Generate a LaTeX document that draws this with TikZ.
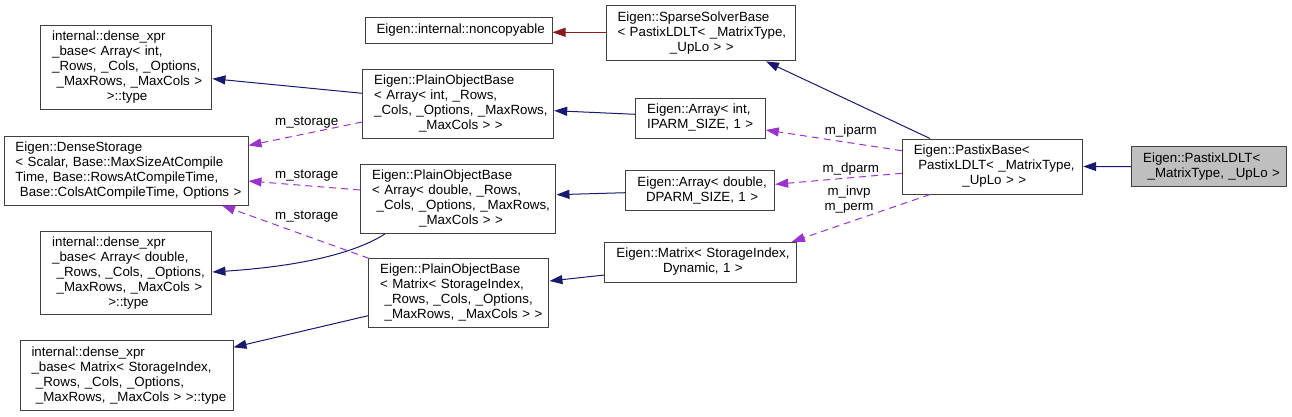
\documentclass[tikz,border=0pt]{standalone}
\usepackage{fontspec}
\setmainfont{Liberation Sans}
\usetikzlibrary{arrows.meta}
\definecolor{navy}{HTML}{191970}
\definecolor{orchid}{HTML}{9A32CD}
\definecolor{fbrick}{HTML}{8B1A1A}
\definecolor{bord}{HTML}{404040}
\definecolor{curcls}{HTML}{BFBFBF}
\newcommand{\lastln}[1]{\multicolumn{1}{@{}c@{}}{#1}}
\tikzset{
  cls/.style={draw=bord, line width=1pt, fill=white, inner xsep=11.5pt, inner ysep=0pt,
    align=left, font=\fontsize{13.33}{15}\selectfont},
  inh/.style={draw=navy, line width=1pt, -{Triangle[length=13pt,width=9pt,fill=navy]}},
  inhred/.style={draw=fbrick, line width=1pt, -{Triangle[length=13pt,width=9pt,fill=fbrick]}},
  usage/.style={draw=orchid, line width=1pt, dash pattern=on 7pt off 5pt,
    -{Triangle[length=13pt,width=9pt,fill=orchid]}},
  lbl/.style={inner sep=0pt, align=center, font=\fontsize{13.33}{15}\selectfont}
}
\begin{document}
\begin{tikzpicture}[x=1pt,y=-1pt]
\useasboundingbox (0,0) rectangle (1292,417);
% left column
\node[cls, text width=148.3pt, minimum height=84.3pt] (dxint) at (126.3,67.8)
  {\begin{tabular}{@{}l@{}}internal::dense\_xpr\\ \_base< Array< int,\\ \_Rows, \_Cols, \_Options,\\ \ \_MaxRows, \_MaxCols >\\ \lastln{>::type}\end{tabular}};
\node[cls, text width=221pt, minimum height=69pt] (ds) at (126,170.5)
  {\begin{tabular}{@{}l@{}}Eigen::DenseStorage\\ < Scalar, Base::MaxSizeAtCompile\\ Time, Base::RowsAtCompileTime,\\ \lastln{\ Base::ColsAtCompileTime, Options >}\end{tabular}};
\node[cls, text width=148.3pt, minimum height=83.3pt] (dxdbl) at (126.3,273.3)
  {\begin{tabular}{@{}l@{}}internal::dense\_xpr\\ \_base< Array< double,\\ \ \_Rows, \_Cols, \_Options,\\ \ \_MaxRows, \_MaxCols >\\ \lastln{>::type}\end{tabular}};
\node[cls, text width=190pt, minimum height=69.7pt] (dxmat) at (126.5,375.8)
  {\begin{tabular}{@{}l@{}}internal::dense\_xpr\\ \_base< Matrix< StorageIndex,\\ \ \_Rows, \_Cols, \_Options,\\ \lastln{\ \_MaxRows, \_MaxCols > >::type}\end{tabular}};
% middle column
\node[cls, text width=164pt, minimum height=25.6pt] (nonc) at (458.5,30.5)
  {\begin{tabular}{@{}l@{}}Eigen::internal::noncopyable\end{tabular}};
\node[cls, text width=168pt, minimum height=69pt] (pobint) at (458.2,103.8)
  {\begin{tabular}{@{}l@{}}Eigen::PlainObjectBase\\ < Array< int, \_Rows,\\ \_Cols, \_Options, \_MaxRows,\\ \lastln{\_MaxCols > >}\end{tabular}};
\node[cls, text width=172.3pt, minimum height=69.3pt] (pobdbl) at (458.3,198.7)
  {\begin{tabular}{@{}l@{}}Eigen::PlainObjectBase\\ < Array< double, \_Rows,\\ \ \_Cols, \_Options, \_MaxRows,\\ \lastln{\_MaxCols > >}\end{tabular}};
\node[cls, text width=157.3pt, minimum height=68.7pt] (pobmat) at (458.8,293.3)
  {\begin{tabular}{@{}l@{}}Eigen::PlainObjectBase\\ < Matrix< StorageIndex,\\ \ \_Rows, \_Cols, \_Options,\\ \lastln{\ \_MaxRows, \_MaxCols > >}\end{tabular}};
% right-middle column
\node[cls, text width=166pt, minimum height=55.3pt] (ssb) at (700.5,33.3)
  {\begin{tabular}{@{}l@{}}Eigen::SparseSolverBase\\ < PastixLDLT< \_MatrixType,\\ \lastln{\_UpLo > >}\end{tabular}};
\node[cls, text width=106.6pt, minimum height=39.6pt] (aint) at (700.5,118.5)
  {\begin{tabular}{@{}l@{}}Eigen::Array< int,\\ \lastln{IPARM\_SIZE, 1 >}\end{tabular}};
\node[cls, text width=125.7pt, minimum height=40pt] (adbl) at (700.3,190.7)
  {\begin{tabular}{@{}l@{}}Eigen::Array< double,\\ \lastln{DPARM\_SIZE, 1 >}\end{tabular}};
\node[cls, text width=168.7pt, minimum height=40pt] (mat) at (700.8,262.3)
  {\begin{tabular}{@{}l@{}}Eigen::Matrix< StorageIndex,\\ \lastln{Dynamic, 1 >}\end{tabular}};
% right column
\node[cls, text width=157.4pt, minimum height=55pt] (base) at (992.5,166.5)
  {\begin{tabular}{@{}l@{}}Eigen::PastixBase<\\ \ PastixLDLT< \_MatrixType,\\ \lastln{\_UpLo > >}\end{tabular}};
\node[cls, fill=curcls, text width=132pt, minimum height=40pt] (ldlt) at (1209.2,166.7)
  {\begin{tabular}{@{}l@{}}Eigen::PastixLDLT<\\ \lastln{\ \_MatrixType, \_UpLo >}\end{tabular}};
% inheritance edges
\draw[inh] (ldlt.west) -- (base.east);
\draw[inh] ([xshift=-62.5pt]base.north) -- ([xshift=65.5pt]ssb.south);
\draw[inhred] ([yshift=1pt]ssb.west) -- ([yshift=-1.8pt]nonc.east);
\draw[inh] ([yshift=4.2pt]aint.west) -- ([yshift=-6.9pt]pobint.east);
\draw[inh] ([yshift=10.5pt]pobint.west) -- ([yshift=-10.9pt]dxint.east);
\draw[inh] ([yshift=-2pt]adbl.west) -- ([yshift=4pt]pobdbl.east);
\draw[inh] ([xshift=-73.3pt]pobdbl.south) .. controls (365,247) and (320,265) .. ([yshift=1.3pt]dxdbl.east);
\draw[inh] ([yshift=-12.7pt]mat.west) -- ([yshift=12.3pt]pobmat.east);
\draw[inh] ([yshift=-22.4pt]pobmat.west) -- ([yshift=28.5pt]dxmat.east);
% usage edges
\draw[usage] ([yshift=-18.2pt]pobint.west) -- ([yshift=25pt]ds.east);
\draw[usage] ([yshift=8.7pt]pobdbl.west) -- ([yshift=-10.5pt]ds.east);
\draw[usage] ([xshift=1pt]pobmat.north west) -- ([xshift=96pt]ds.south);
\draw[usage] ([yshift=15.8pt]base.west) -- ([yshift=-11.5pt]aint.east);
\draw[usage] ([yshift=-6.8pt]base.west) -- ([yshift=6.4pt]adbl.east);
\draw[usage] ([xshift=-62.5pt]base.south) -- ([xshift=91pt]mat.north);
% labels
\node[lbl] (l1) at (306.7,122.7) {m\_storage};
\node[lbl] (l2) at (306.7,176) {m\_storage};
\node[lbl] (l3) at (306.7,216.7) {m\_storage};
\node[lbl] (l4) at (850.8,131) {m\_iparm};
\node[lbl] (l5) at (850.8,168.7) {m\_dparm};
\node[lbl] (l6) at (849,200) {m\_invp\\m\_perm};
\end{tikzpicture}
\end{document}
